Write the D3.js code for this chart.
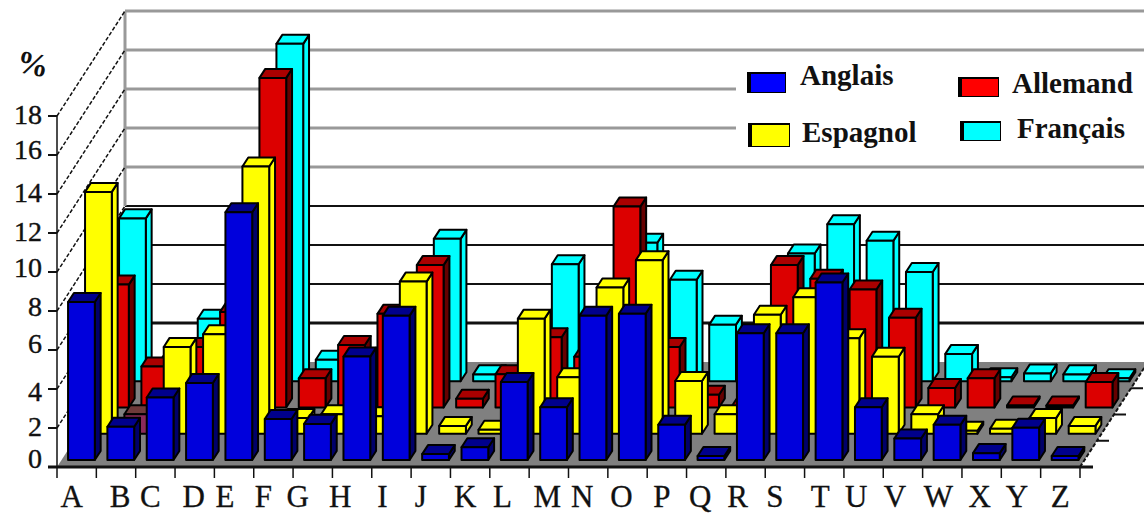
<!DOCTYPE html>
<html>
<head>
<meta charset="utf-8">
<script src="https://cdn.jsdelivr.net/npm/d3@7"></script>
<style>
  html, body { margin: 0; padding: 0; background: #fff; }
  svg { display: block; }
  text { font-family: "Liberation Serif", serif; fill: #111; }
</style>
</head>
<body>
<svg id="chart" width="1144" height="514"></svg>
<script>
// Letter frequencies (%) in four languages
const letters = "ABCDEFGHIJKLMNOPQRSTUVWXYZ".split("");
const anglais  = [8.1,1.7,3.2,3.95,12.7,2.1,1.85,5.3,7.4,0.3,0.65,4.0,2.7,7.4,7.5,1.8,0.2,6.5,6.5,9.1,2.7,1.1,1.8,0.35,1.65,0.2];
const espagnol = [12.4,1.0,4.45,5.1,13.7,0.8,1.0,0.9,7.8,0.4,0.2,5.9,2.9,7.5,8.9,2.7,1.0,6.1,7.0,4.9,3.95,1.0,0.15,0.25,0.8,0.4];
const allemand = [6.3,2.1,3.1,4.9,16.9,1.5,3.2,4.8,7.3,0.45,1.7,3.6,2.6,10.3,3.1,0.65,0.05,7.3,6.6,6.05,4.6,1.0,1.5,0.1,0.1,1.3];
const francais = [8.35,0.9,3.2,3.0,17.3,1.1,0.9,0.7,7.3,0.35,0.05,6.0,2.5,7.1,5.2,2.9,0.9,6.55,8.05,7.2,5.6,1.4,0.2,0.4,0.35,0.15];
const valueTicks = [0,2,4,6,8,10,12,14,16,18];

// Rows run from the front of the floor to the back
const seriesNames = ["Anglais","Espagnol","Allemand","Français"];
const seriesValues = [anglais, espagnol, allemand, francais];
const palette = {
  "Anglais":  {front:"#0000dc", top:"#00008c", side:"#00006a"},
  "Espagnol": {front:"#ffff00", top:"#ffff00", side:"#ffff00"},
  "Allemand": {front:"#dc0000", top:"#aa0000", side:"#660000"},
  "Français": {front:"#00ffff", top:"#00ffff", side:"#00ffff"}
};
// The Spanish B bar carries its own muddy brown colouring
const barOverrides = {"Espagnol-B": {front:"#8a2a5a", top:"#6f3a3a", side:"#6f3a3a"}};

// Hand placement of the axis labels relative to their slots and ticks
const labelNudge = [-5,4,-5,-1,-9,-10,-15,-12,-9,-10,-5,-7,-1.5,-6,-6,-5,-6,-8,-10,-4,-7.5,-8,-4,-2,-4,0];
const tickNudge = [-7,0,4,-5,-3,-3,0,0,-4,0];

const svg = d3.select("#chart");

// Oblique projection: a slot along x, a value upward, a depth fraction backward
const x = d3.scaleBand().domain(letters).range([57, 1080]);
const v = d3.scaleLinear().domain([0, 18]).range([467, 116]);
const depthX = d3.scaleLinear().domain([0, 1]).range([0, 68]);
const depthY = d3.scaleLinear().domain([0, 1]).range([0, 105]);
const rows = d3.scaleBand().domain(seriesNames).range([0, 1]);
const pt = (px, val, d) => [px + depthX(d), v(val) - depthY(d)];
const poly = pts => d3.line()(pts) + "Z";

const xEnd = x.range()[1], xStart = x.range()[0];

// Back wall gridlines: grey on the upper half, black on the lower half
const wall = svg.append("g");
wall.selectAll("line.grid").data(valueTicks.filter(t => t > 0)).join("line")
  .attr("x1", t => pt(xStart, t, 1)[0]).attr("x2", 1144)
  .attr("y1", t => pt(xStart, t, 1)[1]).attr("y2", t => pt(xStart, t, 1)[1])
  .attr("stroke", t => t >= 10 ? "#999" : "#111")
  .attr("stroke-width", t => t >= 10 ? 3 : (t === 2 ? 3 : 2));
wall.append("line")
  .attr("x1", pt(xStart, 18, 1)[0]).attr("x2", pt(xStart, 18, 1)[0])
  .attr("y1", pt(xStart, 18, 1)[1]).attr("y2", pt(xStart, 8, 1)[1])
  .attr("stroke", "#999").attr("stroke-width", 3);

// Side wall: dashed lines running back from every value tick
wall.selectAll("line.side").data(valueTicks.filter(t => t > 0)).join("line")
  .attr("x1", t => pt(xStart, t, 0)[0]).attr("y1", t => pt(xStart, t, 0)[1])
  .attr("x2", t => pt(xStart, t, 1)[0]).attr("y2", t => pt(xStart, t, 1)[1])
  .attr("stroke", "#111").attr("stroke-width", 1.5).attr("stroke-dasharray", "4 2");

// Floor
svg.append("path")
  .attr("d", poly([pt(xStart,0,0), pt(xStart,0,1), pt(xEnd,0,1), pt(xEnd,0,0)]))
  .attr("fill", "#808080");
svg.append("line")
  .attr("x1", xEnd).attr("y1", v(0)).attr("x2", xEnd + depthX(1)).attr("y2", v(0) - depthY(1))
  .attr("stroke", "#111").attr("stroke-width", 2).attr("stroke-dasharray", "4 2");

// Depth tick marks along the right edge of the floor
svg.selectAll("line.depth").data(d3.range(1, 4)).join("line")
  .attr("x1", i => xEnd + depthX(i / 4)).attr("y1", i => v(0) - depthY(i / 4))
  .attr("x2", i => xEnd + depthX(i / 4) + 12).attr("y2", i => v(0) - depthY(i / 4))
  .attr("stroke", "#111").attr("stroke-width", 2);

// Value axis
const axisG = svg.append("g");
axisG.append("line").attr("x1", xStart).attr("x2", xStart).attr("y1", v(18)).attr("y2", v(0))
  .attr("stroke", "#111").attr("stroke-width", 1.5);
axisG.selectAll("line.tick").data(valueTicks).join("line")
  .attr("x1", xStart - 9).attr("x2", xStart).attr("y1", d => v(d)).attr("y2", d => v(d))
  .attr("stroke", "#111").attr("stroke-width", 2);
axisG.selectAll("text").data(valueTicks).join("text")
  .attr("x", 42).attr("y", (d, i) => v(d) + 8 + tickNudge[i]).attr("text-anchor", "end")
  .attr("font-size", 28).attr("stroke", "#111").attr("stroke-width", 0.4).text(d => d);
svg.append("text").attr("transform", "translate(15,71) rotate(12)")
  .attr("font-size", 32).attr("font-weight", "bold").text("%");

// Category axis
svg.append("line").attr("x1", xStart - 9).attr("x2", xEnd + 13)
  .attr("y1", v(0)).attr("y2", v(0)).attr("stroke", "#111").attr("stroke-width", 3);
svg.selectAll("line.cat").data(letters.concat(["end"])).join("line")
  .attr("x1", d => d === "end" ? xEnd : x(d)).attr("x2", d => d === "end" ? xEnd : x(d))
  .attr("y1", v(0)).attr("y2", v(0) + 11)
  .attr("stroke", "#111").attr("stroke-width", 1.5);
svg.selectAll("text.cat").data(letters).join("text")
  .attr("class", "cat")
  .attr("x", (d, i) => x(d) + x.bandwidth() / 2 + labelNudge[i])
  .attr("y", 507).attr("text-anchor", "middle").attr("font-size", 31)
  .attr("stroke", "#111").attr("stroke-width", 0.3).text(d => d);

// Bars, painted from the back row to the front row
const barFrontDepth = 0.067, barDepth = 0.086;
const barInset = 0.165 * x.bandwidth(), barWidth = 0.68 * x.bandwidth();
[...seriesNames].reverse().forEach(name => {
  const values = seriesValues[seriesNames.indexOf(name)];
  const d0 = rows(name) + barFrontDepth, d1 = d0 + barDepth;
  const colour = i => barOverrides[name + "-" + letters[i]] || palette[name];
  const g = svg.append("g").selectAll("g").data(values).join("g")
    .attr("stroke", "#000").attr("stroke-width", 2).attr("stroke-linejoin", "round");
  const left = (d, i) => x(letters[i]) + barInset;
  g.append("path").attr("fill", (d, i) => colour(i).side).attr("d", (d, i) => {
    const r = left(d, i) + barWidth;
    return poly([pt(r,0,d0), pt(r,0,d1), pt(r,d,d1), pt(r,d,d0)]);
  });
  g.append("path").attr("fill", (d, i) => colour(i).top).attr("d", (d, i) => {
    const l = left(d, i), r = l + barWidth;
    return poly([pt(l,d,d0), pt(l,d,d1), pt(r,d,d1), pt(r,d,d0)]);
  });
  g.append("path").attr("fill", (d, i) => colour(i).front).attr("d", (d, i) => {
    const l = left(d, i), r = l + barWidth;
    return poly([pt(l,0,d0), pt(l,d,d0), pt(r,d,d0), pt(r,0,d0)]);
  });
});

// Legend on a white panel that interrupts the gridlines
const legendG = svg.append("g");
legendG.append("rect").attr("x", 736).attr("y", 56).attr("width", 408).attr("height", 104).attr("fill", "#fff");
const legendItems = [
  {name:"Anglais",  sx:747, sy:72,  w:39, h:21, tx:800,  ty:85,  fill:"#0000ff"},
  {name:"Allemand", sx:958, sy:77,  w:41, h:20, tx:1012, ty:93,  fill:"#ff0000"},
  {name:"Espagnol", sx:748, sy:123, w:42, h:24, tx:802,  ty:142, fill:"#ffff00"},
  {name:"Français", sx:960, sy:121, w:41, h:20, tx:1017, ty:138, fill:"#00ffff"}
];
const li = legendG.selectAll("g").data(legendItems).join("g");
li.append("rect").attr("x", d => d.sx).attr("y", d => d.sy).attr("width", d => d.w).attr("height", d => d.h).attr("fill", "#000");
li.append("rect").attr("x", d => d.sx + 4).attr("y", d => d.sy + 2).attr("width", d => d.w - 5).attr("height", d => d.h - 3).attr("fill", d => d.fill);
li.append("text").attr("x", d => d.tx).attr("y", d => d.ty)
  .attr("font-size", 29).attr("font-weight", "bold").text(d => d.name);
</script>
</body>
</html>
